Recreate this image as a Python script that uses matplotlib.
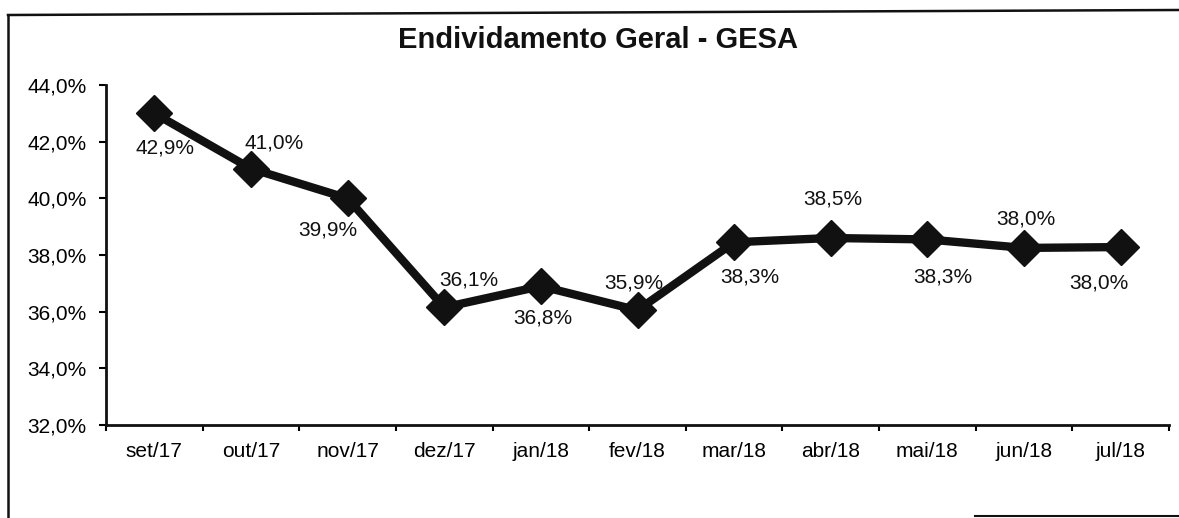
# coding: utf-8

import numpy as np
import matplotlib
matplotlib.use('Agg')
import matplotlib.pyplot as plt
from matplotlib.lines import Line2D

# ---- data
meses = ['set/17', 'out/17', 'nov/17', 'dez/17', 'jan/18', 'fev/18',
         'mar/18', 'abr/18', 'mai/18', 'jun/18', 'jul/18']
# position of the markers on the plot (%)
endividamento = [43.0, 41.05, 40.0, 36.15, 36.9, 36.05, 38.45, 38.6, 38.55, 38.25, 38.28]
# printed data labels
rotulos = ['42,9%', '41,0%', '39,9%', '36,1%', '36,8%', '35,9%',
           '38,3%', '38,5%', '38,3%', '38,0%', '38,0%']
# label offsets in pixels (dx, dy), up is positive
offsets = [(11, -35), (23, 26), (-20, -32), (25, 27), (2, -32), (-4, 27),
           (16, -35), (2, 39), (15, -38), (2, 29), (-22, -36)]

y_ticks = [32, 34, 36, 38, 40, 42, 44]


def fmt_pct(v):
    return ('%.1f%%' % v).replace('.', ',')


def main():
    plt.rcParams['font.family'] = ['Liberation Sans', 'DejaVu Sans']

    fig = plt.figure(figsize=(11.79, 5.18), dpi=100)
    W, H = 1179.0, 518.0
    ax = fig.add_axes([106 / W, 1 - 425 / H, (1169 - 106) / W, (425 - 85) / H])

    x = np.arange(len(meses))
    ax.plot(x, endividamento, color='#111111', lw=6, marker='D', ms=18,
            markerfacecolor='#111111', markeredgecolor='#111111', solid_joinstyle='miter')

    for i in range(len(x)):
        ax.annotate(rotulos[i], (x[i], endividamento[i]), xytext=offsets[i],
                    textcoords='offset pixels', ha='center', va='center',
                    fontsize=15, color='#111111')

    ax.set_xlim(-0.5, len(meses) - 0.5)
    ax.set_ylim(32, 44)
    ax.set_yticks(y_ticks)
    ax.set_yticklabels([fmt_pct(v) for v in y_ticks], fontsize=15)

    # labels at category centres, tick marks between categories
    ax.set_xticks(x)
    ax.set_xticklabels(meses, fontsize=15)
    ax.set_xticks(np.arange(len(meses) + 1) - 0.5, minor=True)
    ax.tick_params(axis='x', which='major', length=0, pad=12)
    ax.tick_params(axis='x', which='minor', length=4, width=1.5, direction='out')
    ax.tick_params(axis='y', length=5, width=1.5, direction='out', pad=9)

    for s in ['top', 'right']:
        ax.spines[s].set_visible(False)
    for s in ['left', 'bottom']:
        ax.spines[s].set_linewidth(2)
        ax.spines[s].set_color('#111111')

    fig.text(598 / W, 1 - 40 / H, 'Endividamento Geral - GESA', ha='center', va='center',
             fontsize=21, fontweight='bold', color='#111111')

    # scanned frame around the chart
    tr = fig.transFigure
    fig.add_artist(Line2D([8 / W, 8 / W], [1 - 15 / H, 0], transform=tr, color='#111111', lw=1.8))
    fig.add_artist(Line2D([8 / W, 1.0], [1 - 15 / H, 1 - 10 / H], transform=tr, color='#111111', lw=1.8))
    fig.add_artist(Line2D([975 / W, 1.0], [1 - 516 / H, 1 - 516 / H], transform=tr, color='#111111', lw=1.5))

    fig.savefig('out.png', dpi=100)


### MAIN ####
if __name__ == '__main__':
    main()
